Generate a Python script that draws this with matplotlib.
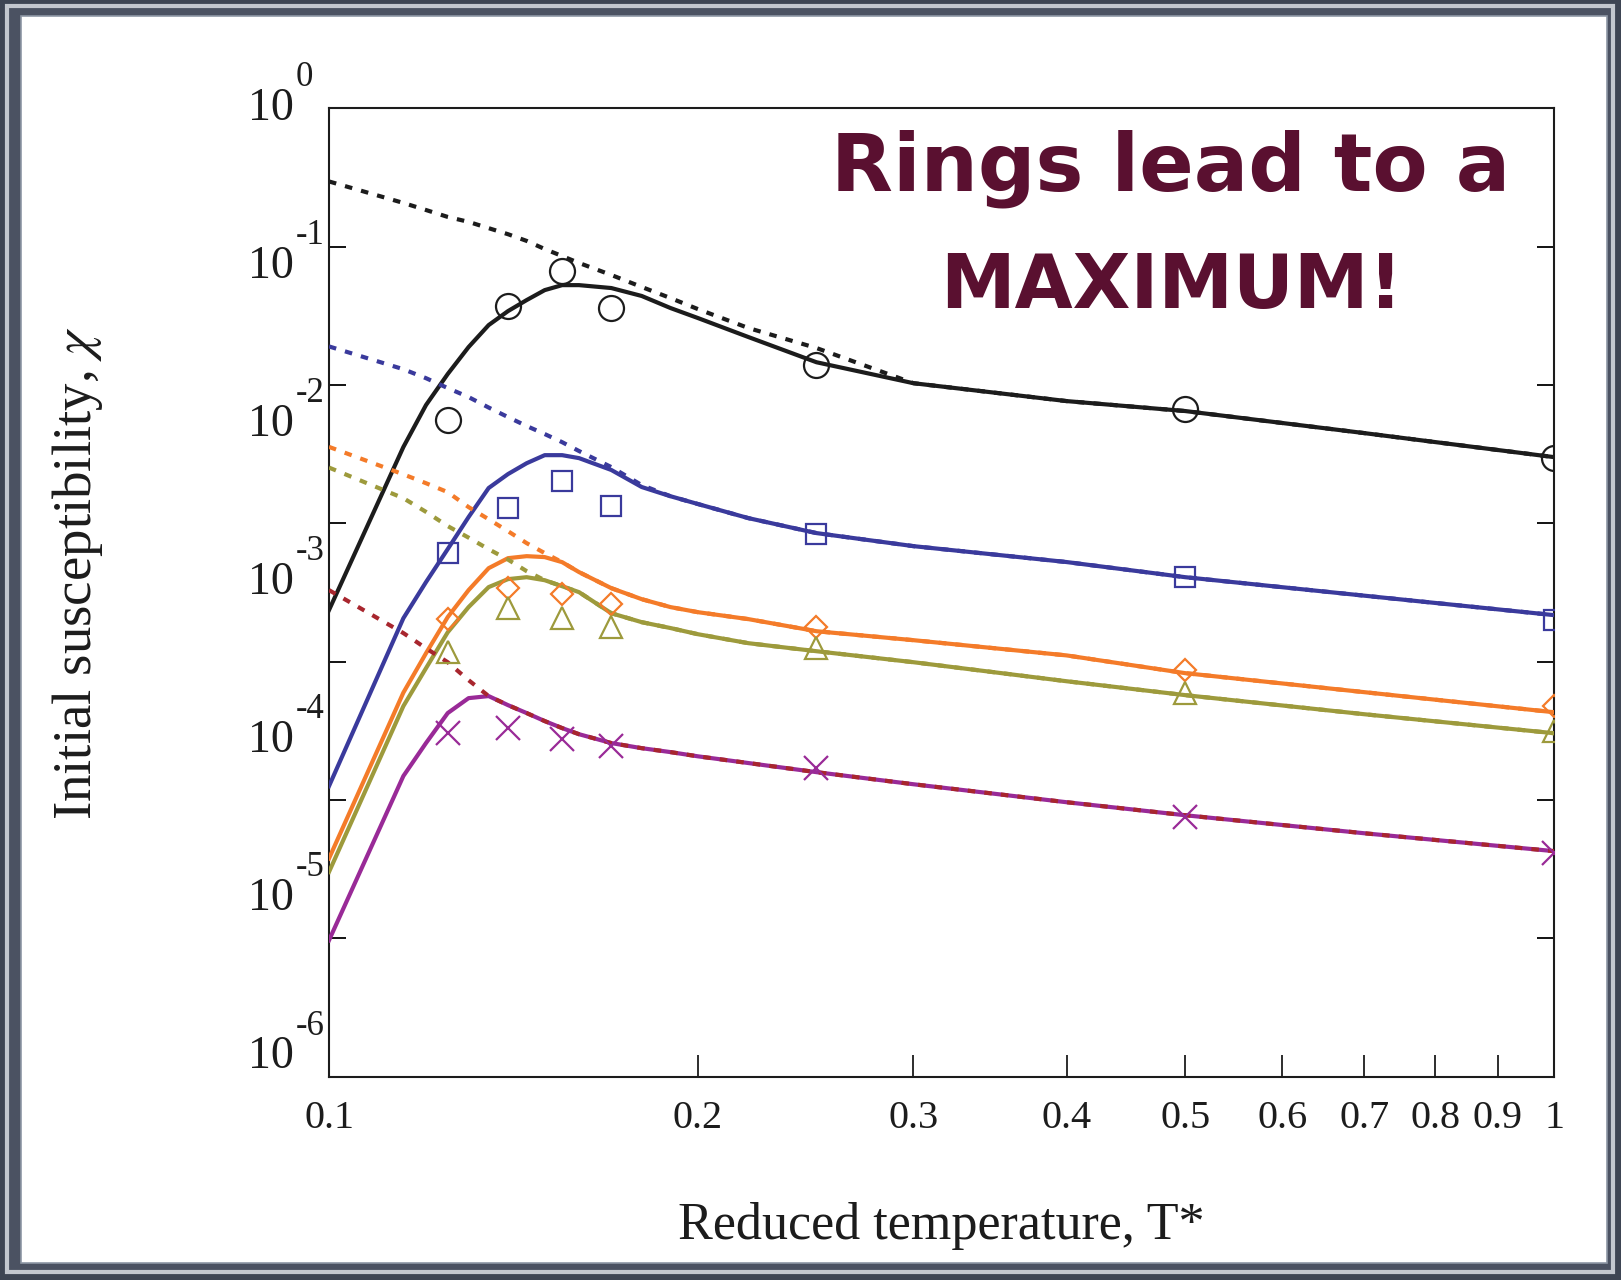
import matplotlib
matplotlib.use("Agg")
import matplotlib.pyplot as plt
import matplotlib.transforms as mtransforms
from matplotlib.patches import Rectangle
from matplotlib.ticker import FixedLocator, FixedFormatter, NullLocator

plt.rcParams["font.family"] = ["Liberation Serif", "DejaVu Serif"]
plt.rcParams["mathtext.fontset"] = "stix"

# ---------- data ----------
T_sim = [0.1, 0.115, 0.12, 0.125, 0.13, 0.135, 0.14, 0.145, 0.15, 0.155, 0.16,
         0.17, 0.18, 0.19, 0.2, 0.22, 0.25, 0.3, 0.4, 0.5, 0.7, 1.0]
T_pts = [0.125, 0.14, 0.155, 0.17, 0.25, 0.5, 1.0]

# solid = with rings, dotted = chains only
black_solid = [2.36e-4, 3.56e-3, 7.16e-3, 1.20e-2, 1.88e-2, 2.71e-2, 3.42e-2, 4.11e-2,
               4.85e-2, 5.27e-2, 5.27e-2, 5.02e-2, 4.40e-2, 3.60e-2, 3.05e-2, 2.22e-2,
               1.46e-2, 1.03e-2, 7.65e-3, 6.48e-3, 4.49e-3, 3.01e-3]
black_dot = [0.296, 0.207, 0.184, 0.164, 0.151, 0.136, 0.123, 0.110, 0.0961, 0.0855,
             0.0762, 0.0624, 0.0511, 0.0425, 0.0354, 0.0258, 0.0185, 1.03e-2, 7.65e-3,
             6.48e-3, 4.49e-3, 3.01e-3]
black_pts = [5.60e-3, 3.72e-2, 6.67e-2, 3.58e-2, 1.40e-2, 6.76e-3, 2.96e-3]

blue_solid = [1.26e-5, 2.06e-4, 3.76e-4, 6.51e-4, 1.11e-3, 1.80e-3, 2.27e-3, 2.72e-3,
              3.11e-3, 3.11e-3, 2.96e-3, 2.43e-3, 1.83e-3, 1.57e-3, 1.38e-3, 1.09e-3,
              8.50e-4, 6.84e-4, 5.25e-4, 4.08e-4, 3.00e-4, 2.17e-4]
blue_dot = [1.90e-2, 1.30e-2, 1.12e-2, 9.50e-3, 8.18e-3, 6.87e-3, 5.86e-3, 5.05e-3,
            4.42e-3, 3.86e-3, 3.33e-3, 2.55e-3, 1.89e-3, 1.57e-3, 1.38e-3, 1.09e-3,
            8.50e-4, 6.84e-4, 5.25e-4, 4.08e-4, 3.00e-4, 2.17e-4]
blue_pts = [6.08e-4, 1.29e-3, 2.02e-3, 1.33e-3, 8.44e-4, 4.09e-4, 1.99e-4]

orange_solid = [3.78e-6, 5.97e-5, 1.15e-4, 2.10e-4, 3.29e-4, 4.74e-4, 5.60e-4, 5.79e-4,
                5.70e-4, 5.24e-4, 4.44e-4, 3.40e-4, 2.83e-4, 2.48e-4, 2.28e-4, 2.03e-4,
                1.66e-4, 1.43e-4, 1.11e-4, 8.26e-5, 6.02e-5, 4.31e-5]
orange_dot = [3.57e-3, 2.26e-3, 1.95e-3, 1.68e-3, 1.31e-3, 1.07e-3, 8.77e-4, 7.19e-4,
              6.09e-4, 5.24e-4, 4.44e-4, 3.40e-4, 2.83e-4, 2.48e-4, 2.28e-4, 2.03e-4,
              1.66e-4, 1.43e-4, 1.11e-4, 8.26e-5, 6.02e-5, 4.31e-5]
orange_pts = [2.02e-4, 3.39e-4, 3.11e-4, 2.62e-4, 1.79e-4, 8.69e-5, 4.76e-5]

olive_solid = [3.02e-6, 4.77e-5, 8.97e-5, 1.63e-4, 2.48e-4, 3.46e-4, 3.95e-4, 4.08e-4,
               3.88e-4, 3.51e-4, 3.18e-4, 2.24e-4, 1.93e-4, 1.75e-4, 1.58e-4, 1.36e-4,
               1.19e-4, 9.91e-5, 7.22e-5, 5.73e-5, 4.17e-5, 3.04e-5]
olive_dot = [2.53e-3, 1.52e-3, 1.21e-3, 9.55e-4, 7.88e-4, 6.50e-4, 5.47e-4, 4.51e-4,
             3.88e-4, 3.51e-4, 3.18e-4, 2.24e-4, 1.93e-4, 1.75e-4, 1.58e-4, 1.36e-4,
             1.19e-4, 9.91e-5, 7.22e-5, 5.73e-5, 4.17e-5, 3.04e-5]
olive_pts = [1.17e-4, 2.44e-4, 2.06e-4, 1.79e-4, 1.25e-4, 5.96e-5, 3.15e-5]

purple_solid = [9.68e-7, 1.49e-5, 2.58e-5, 4.25e-5, 5.45e-5, 5.64e-5, 4.85e-5, 4.25e-5,
                3.72e-5, 3.31e-5, 2.99e-5, 2.58e-5, 2.37e-5, 2.22e-5, 2.07e-5, 1.85e-5,
                1.59e-5, 1.30e-5, 9.64e-6, 7.76e-6, 5.75e-6, 4.27e-6]
red_dot = [3.29e-4, 1.61e-4, 1.25e-4, 9.91e-5, 7.35e-5, 5.64e-5, 4.85e-5, 4.25e-5,
           3.72e-5, 3.31e-5, 2.99e-5, 2.58e-5, 2.37e-5, 2.22e-5, 2.07e-5, 1.85e-5,
           1.59e-5, 1.30e-5, 9.64e-6, 7.76e-6, 5.75e-6, 4.27e-6]
purple_pts = [3.04e-5, 3.29e-5, 2.74e-5, 2.45e-5, 1.69e-5, 7.55e-6, 4.13e-6]

x_ticks = [0.1, 0.2, 0.3, 0.4, 0.5, 0.6, 0.7, 0.8, 0.9, 1.0]
x_tick_labels = ["0.1", "0.2", "0.3", "0.4", "0.5", "0.6", "0.7", "0.8", "0.9", "1"]
y_exps = [0, -1, -2, -3, -4, -5, -6]

# ---------- figure + slide frame ----------
W, H = 1621, 1280
fig = plt.figure(figsize=(W / 100, H / 100), dpi=100, facecolor="#3e4553")

def px_rect(x0, y0, x1, y1, **kw):
    return Rectangle((x0 / W, 1 - y1 / H), (x1 - x0) / W, (y1 - y0) / H,
                     transform=fig.transFigure, **kw)

fig.patches.append(px_rect(7, 6, 1613, 1272, facecolor="#4b5262",
                           edgecolor="#c3c7ce", lw=3, zorder=-3))
fig.patches.append(px_rect(21, 16, 1607, 1263, facecolor="white",
                           edgecolor="#8e97a5", lw=1.2, zorder=-2))

ax = fig.add_axes([329 / W, 1 - 1076.7 / H, 1225 / W, 968.4 / H])
ax.set_facecolor("none")
ax.set_xscale("log")
ax.set_yscale("log")

series = [
    (black_solid, black_dot, black_pts, "#1c1c1c", "#1c1c1c", "o", 18),
    (blue_solid, blue_dot, blue_pts, "#3a3a9c", "#3a3a9c", "s", 15),
    (orange_solid, orange_dot, orange_pts, "#f47b29", "#f47b29", "D", 11),
    (olive_solid, olive_dot, olive_pts, "#9d9a3c", "#9d9a3c", "^", 16),
    (purple_solid, red_dot, purple_pts, "#992a97", "#a8262e", "x", 17),
]
for solid, dot, pts, c, cdot, mk, ms in series:
    ax.plot(T_sim, solid, color=c, lw=3.0, solid_joinstyle="round", zorder=3)
    ax.plot(T_sim, dot, color=cdot, lw=3.0, ls=(0, (1.8, 2.2)),
            dash_capstyle="butt", zorder=4)
    ax.plot(T_pts, pts, ls="none", marker=mk, ms=ms, mfc="none", mec=c,
            mew=1.6, zorder=5)

ax.set_xlim(0.1, 1.0)
ax.set_ylim(1e-7, 1.0)
ax.xaxis.set_major_locator(FixedLocator(x_ticks))
ax.xaxis.set_major_formatter(FixedFormatter(x_tick_labels))
ax.xaxis.set_minor_locator(NullLocator())
ax.yaxis.set_major_locator(FixedLocator([10.0 ** e for e in range(-7, 1)]))
ax.yaxis.set_minor_locator(NullLocator())
ax.tick_params(axis="x", direction="in", length=16, width=1.3, top=False,
               labelsize=29, pad=17, colors="#1c1c1c")
ax.tick_params(axis="y", direction="in", length=12, width=1.3, left=True,
               right=True, labelleft=False)
for s in ax.spines.values():
    s.set_linewidth(1.5)
    s.set_color("#1c1c1c")

ax.set_xlabel("Reduced temperature, T*", fontsize=37.5, color="#1c1c1c")
ax.xaxis.set_label_coords(0.5, -0.129)
ax.set_ylabel(r"Initial susceptibility, $\chi$", fontsize=39.5, color="#1c1c1c")
ax.yaxis.set_label_coords(-0.183, 0.52)

# y labels: the original figure puts them on a slightly different scale than the ticks
lax = fig.add_axes(ax.get_position())
lax.set_yscale("log")
lax.set_ylim(10 ** -6.1547, 10 ** -0.0291)
lax.axis("off")
trans = mtransforms.blended_transform_factory(lax.transAxes, lax.transData)
for e in y_exps:
    lax.text(-0.0286, 10.0 ** e, "10", transform=trans, ha="right",
             va="center_baseline", fontsize=33, color="#1c1c1c")
    lax.annotate(str(e), xy=(-0.0286, 10.0 ** e), xycoords=trans,
                 xytext=(1, 7), textcoords="offset points", ha="left",
                 va="bottom", fontsize=25, color="#1c1c1c", annotation_clip=False)

# annotation
fig.text(1171 / W, 1 - 191 / H, "Rings lead to a", ha="center", va="baseline",
         fontsize=58, fontweight="bold", family="DejaVu Sans", color="#5a1030")
fig.text(1171 / W, 1 - 308 / H, "MAXIMUM!", ha="center", va="baseline",
         fontsize=54, fontweight="bold", family="DejaVu Sans", color="#5a1030")

fig.savefig("out.png", dpi=100, facecolor=fig.get_facecolor())
